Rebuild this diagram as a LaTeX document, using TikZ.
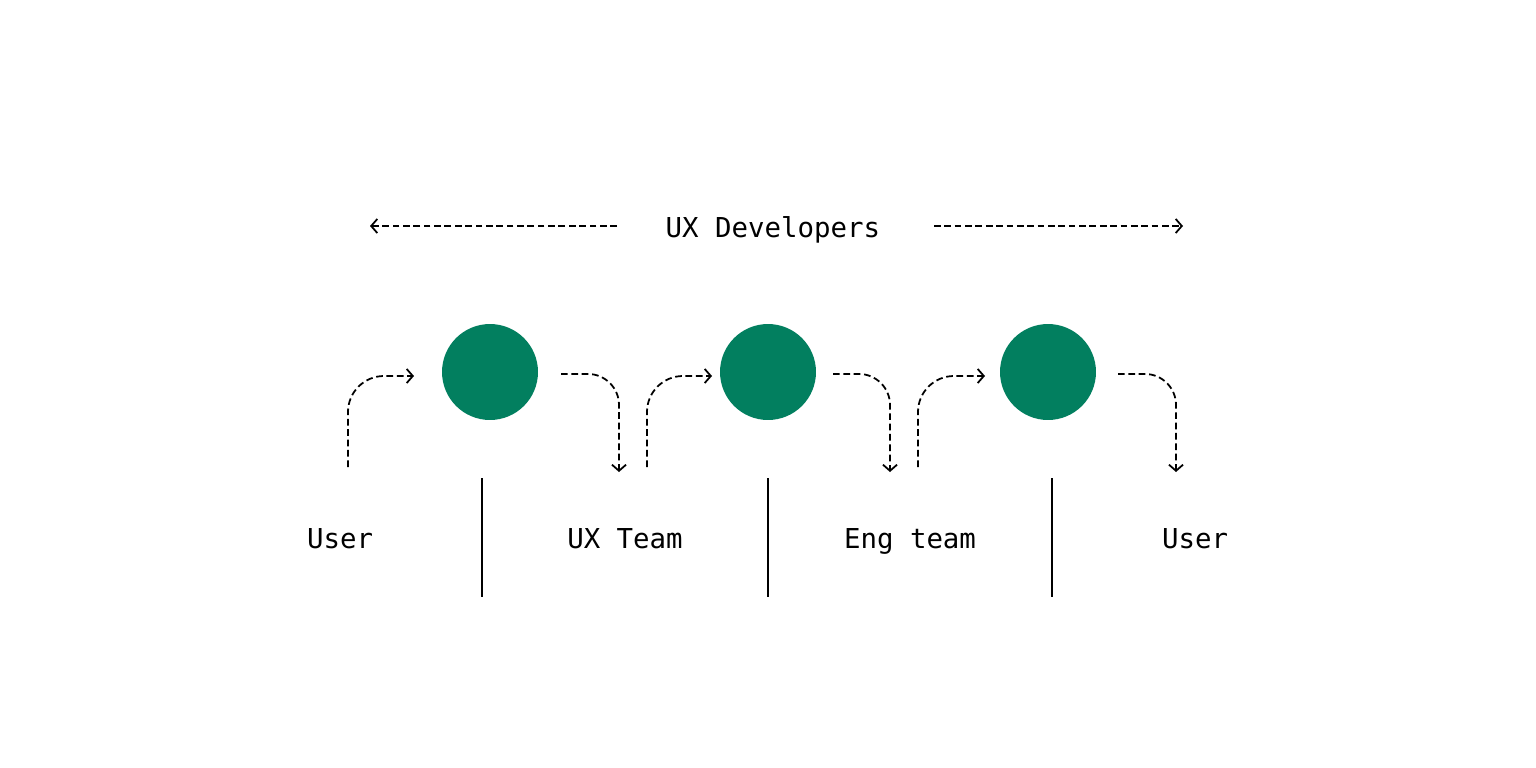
\documentclass[tikz,border=0pt]{standalone}
\usepackage{fontspec}
\setmonofont{DejaVu Sans Mono}
\usetikzlibrary{arrows.meta}
\definecolor{stepgreen}{HTML}{027F5F}
\tikzset{
  flow/.style={draw=black,line width=1pt,dash pattern=on 3.8pt off 2.1pt,-{Straight Barb[length=3.5pt,width=8pt]}},
  stage/.style={circle,fill=stepgreen,minimum size=1.92cm,inner sep=0pt},
  label/.style={font=\ttfamily\fontsize{15.6}{18}\selectfont,inner sep=0pt,anchor=base}
}
\begin{document}
\begin{tikzpicture}[x=0.02cm,y=-0.02cm]
   \fill[white] (0,0) rectangle (1536,768);
   \useasboundingbox (0,0) rectangle (1536,768);
   % top span
   \node[label] (dev) at (773,237) {UX Developers};
   \coordinate (devl) at (617,226);
   \coordinate (devle) at (370,226);
   \coordinate (devr) at (934,226);
   \coordinate (devre) at (1183,226);
   \draw[flow] (devl) -- (devle);
   \draw[flow] (devr) -- (devre);
   % stages
   \node[stage] (c1) at (490,372) {};
   \node[stage] (c2) at (768,372) {};
   \node[stage] (c3) at (1048,372) {};
   % hand-offs in and out
   \foreach \n/\ux/\uy/\dx/\dy in {1/348/414/561/619, 2/647/712/833/890, 3/918/985/1118/1176} {
     \coordinate (in\n) at (\ux,467);
     \coordinate (inend\n) at (\uy,376);
     \coordinate (out\n) at (\dx,374);
     \coordinate (outend\n) at (\dy,472);
     \draw[flow,rounded corners=0.72cm] (in\n) |- (inend\n);
     \draw[flow,rounded corners=0.62cm] (out\n) -| (outend\n);
   }
   % dividers
   \foreach \x in {482,768,1052}
     \draw[line width=1.1pt] (\x,478) -- (\x,597);
   % groups
   \node[label] (userl) at (340,548) {User};
   \node[label] (uxteam) at (625,548) {UX Team};
   \node[label] (engteam) at (910,548) {Eng team};
   \node[label] (userr) at (1195,548) {User};
\end{tikzpicture}
\end{document}
